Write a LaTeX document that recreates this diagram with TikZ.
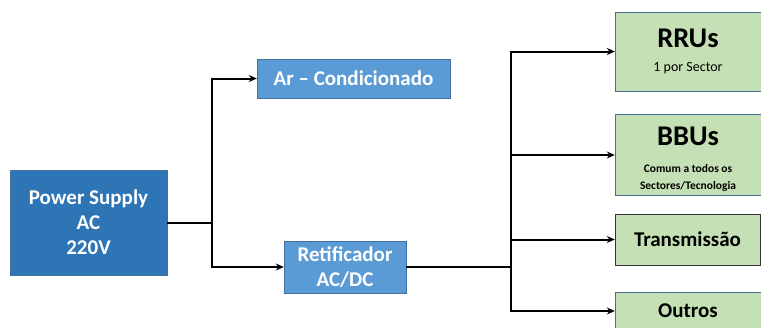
\documentclass[tikz,border=0pt]{standalone}
\usepackage{fontspec}
\setmainfont{Carlito}
\usetikzlibrary{arrows.meta, positioning}

\definecolor{psblue}{HTML}{2E75B6}
\definecolor{ltblue}{HTML}{5B9BD5}
\definecolor{edgeblue}{HTML}{41719C}
\definecolor{ltgreen}{HTML}{C5E0B4}

\tikzset{
    bluebox/.style={draw=edgeblue, fill=ltblue, text=white, font=\bfseries\fontsize{21}{25}\selectfont, align=center, inner sep=0pt},
    greenbox/.style={draw=edgeblue, fill=ltgreen, text=black, align=center, inner sep=0pt},
    wire/.style={line width=2pt},
    link/.style={wire, -{Stealth[length=8pt, width=7pt]}},
}

\begin{document}
\begin{tikzpicture}[x=1pt, y=-1pt]
        \useasboundingbox (0,0) rectangle (761,327);
        \clip (0,0) rectangle (761,327);
        % sources
        \node[bluebox, fill=psblue, minimum width=157pt, minimum height=105pt] (ps) at (88.5,222.5) {Power Supply\\AC\\220V};
        \node[bluebox, minimum width=193pt, minimum height=39pt] (ar) at (353.5,78.5) {Ar -- Condicionado};
        \node[bluebox, minimum width=122pt, minimum height=52pt] (ret) at (345,267) {Retificador\\AC/DC};
        % loads
        \node[greenbox, minimum width=146pt, minimum height=79pt, font=\fontsize{14}{24}\selectfont] (rru) at (688,51.5) {{\bfseries\fontsize{28.5}{24}\selectfont RRUs}\\1 por Sector};
        \node[greenbox, minimum width=146pt, minimum height=81pt, font=\bfseries\fontsize{11.5}{17.5}\selectfont] (bbu) at (688,155) {\rule{0pt}{27pt}{\fontsize{28.5}{17.5}\selectfont BBUs}\\[9pt]Comum a todos os\\Sectores/Tecnologia};
        \node[greenbox, draw=black!80, minimum width=145pt, minimum height=51pt, font=\bfseries\fontsize{21}{25}\selectfont] (tx) at (687.5,239.5) {Transmissão};
        \node[greenbox, minimum width=146pt, minimum height=38pt, font=\bfseries\fontsize{21}{25}\selectfont] (out) at (688,311) {Outros};
        % wiring
        \coordinate (j1) at (212,222.5);
        \coordinate (j2) at (511,267);
        \draw[wire] (ps.east) -- (j1);
        \draw[link] (j1) |- (ar.west);
        \draw[link] (j1) |- (ret.west);
        \draw[wire] (ret.east) -- (j2);
        \draw[link] (j2) |- (rru.west);
        \draw[link] (j2) |- (bbu.west);
        \draw[link] (j2) |- (tx.west);
        \draw[link] (j2) |- (out.west);
    \end{tikzpicture}
\end{document}
